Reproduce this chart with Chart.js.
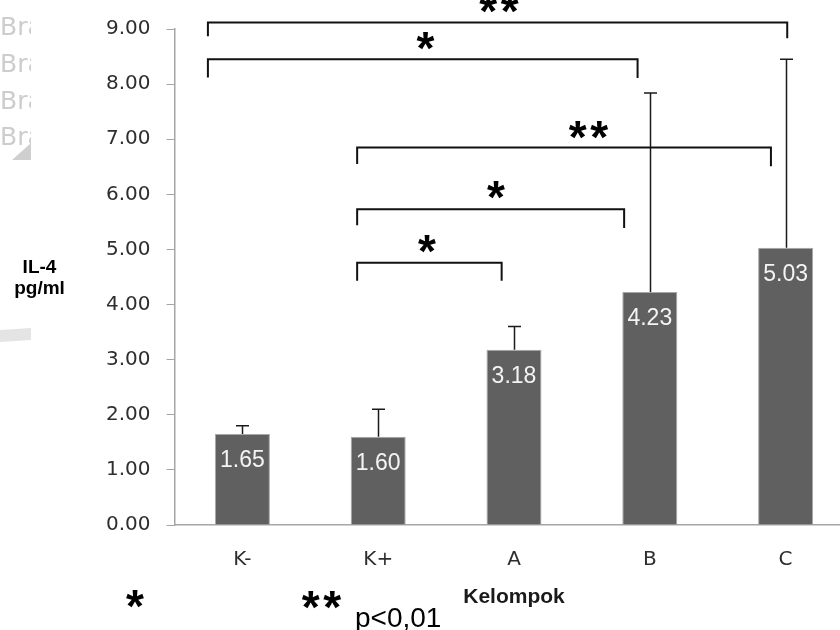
<!DOCTYPE html>
<html>
<head>
<meta charset="utf-8">
<script src="https://cdn.jsdelivr.net/npm/chart.js@4.4.1/dist/chart.umd.min.js"></script>
<style>
  html, body { margin: 0; padding: 0; background: #ffffff; width: 840px; height: 630px; overflow: hidden; }
  #wrap { position: absolute; left: 0; top: 0; width: 860px; height: 630px; }
</style>
</head>
<body>
<div id="wrap"><canvas id="c" width="860" height="630"></canvas></div>
<script>
// ---- data ----
const categories = ['K-', 'K+', 'A', 'B', 'C'];
const means = [1.65, 1.60, 3.18, 4.23, 5.03];
const sdPlus = [0.15, 0.50, 0.42, 3.61, 3.42];
const yTicks = [0, 1, 2, 3, 4, 5, 6, 7, 8, 9];

// significance brackets (category-index units and value units)
const bracketFrom   = [-0.254, -0.254, 0.845, 0.845, 0.845];
const bracketTo     = [4.012, 2.910, 3.892, 2.811, 1.909];
const bracketLevel  = [9.12, 8.45, 6.85, 5.73, 4.76];
const bracketEndL   = [8.87, 8.12, 6.55, 5.44, 4.43];
const bracketEndR   = [8.83, 8.11, 6.51, 5.39, 4.43];
const bracketMarks  = ['**', '*', '**', '*', '*'];
const markAtX       = [1.889, 1.348, 2.548, 1.867, 1.359];
const markAtY       = [9.457, 8.777, 7.165, 6.078, 5.100];

const yTitleLines = ['IL-4', 'pg/ml'];
const xTitle = 'Kelompok';
const legendNote = 'p<0,01';

function drawStar(ctx, cx, cy, count) {
  ctx.save();
  ctx.font = 'bold 46px "Liberation Sans", Arial, sans-serif';
  ctx.textAlign = 'center';
  ctx.textBaseline = 'alphabetic';
  ctx.fillStyle = '#000000';
  const m = ctx.measureText('*');
  const asc = m.actualBoundingBoxAscent, desc = m.actualBoundingBoxDescent;
  const base = cy + (asc - desc) / 2;
  const gap = 21.5;
  for (let k = 0; k < count; k++) {
    const dx = (k - (count - 1) / 2) * gap;
    ctx.fillText('*', cx + dx, base);
  }
  ctx.restore();
}

const extras = {
  id: 'extras',
  afterDatasetsDraw(chart) {
    const ctx = chart.ctx;
    const ys = chart.scales.y;
    const meta = chart.getDatasetMeta(0);
    // error bars (upper only)
    ctx.save();
    ctx.strokeStyle = '#1a1a1a';
    ctx.lineWidth = 1.5;
    meta.data.forEach((bar, i) => {
      const x = Math.round(bar.x) + 0.5;
      const yTop = ys.getPixelForValue(means[i] + sdPlus[i]);
      const yBar = ys.getPixelForValue(means[i]);
      ctx.beginPath();
      ctx.moveTo(x, yBar);
      ctx.lineTo(x, yTop);
      ctx.moveTo(x - 6.5, yTop);
      ctx.lineTo(x + 6.5, yTop);
      ctx.stroke();
    });
    ctx.restore();
    // value labels inside bars
    ctx.save();
    ctx.font = '23px "Liberation Sans", Arial, sans-serif';
    ctx.fillStyle = '#f4f4f4';
    ctx.textAlign = 'center';
    ctx.textBaseline = 'alphabetic';
    meta.data.forEach((bar, i) => {
      ctx.fillText(means[i].toFixed(2), bar.x, bar.y + 33);
    });
    ctx.restore();
  },
  afterDraw(chart) {
    const ctx = chart.ctx;
    const xs = chart.scales.x, ys = chart.scales.y;
    const p0 = xs.getPixelForValue(0);
    const step = xs.getPixelForValue(1) - p0;
    const px = (v) => p0 + v * step;
    // brackets
    ctx.save();
    ctx.strokeStyle = '#111111';
    ctx.lineWidth = 2;
    for (let i = 0; i < bracketFrom.length; i++) {
      const x1 = px(bracketFrom[i]), x2 = px(bracketTo[i]);
      const y = ys.getPixelForValue(bracketLevel[i]);
      ctx.beginPath();
      ctx.moveTo(x1, ys.getPixelForValue(bracketEndL[i]));
      ctx.lineTo(x1, y);
      ctx.lineTo(x2, y);
      ctx.lineTo(x2, ys.getPixelForValue(bracketEndR[i]));
      ctx.stroke();
      drawStar(ctx, px(markAtX[i]), ys.getPixelForValue(markAtY[i]), bracketMarks[i].length);
    }
    ctx.restore();

    // y axis title
    ctx.save();
    ctx.font = 'bold 19px "Liberation Sans", Arial, sans-serif';
    ctx.fillStyle = '#000000';
    ctx.textAlign = 'center';
    ctx.textBaseline = 'alphabetic';
    ctx.fillText(yTitleLines[0], 39.5, 273);
    ctx.fillText(yTitleLines[1], 39.5, 293.5);
    ctx.restore();

    // x axis title
    ctx.save();
    ctx.font = 'bold 21px "Liberation Sans", Arial, sans-serif';
    ctx.fillStyle = '#1a1a1a';
    ctx.textAlign = 'center';
    ctx.textBaseline = 'alphabetic';
    ctx.fillText(xTitle, (chart.chartArea.left + chart.chartArea.right) / 2, 603);
    ctx.restore();

    // bottom note
    drawStar(ctx, 135, 599, 1);
    drawStar(ctx, 321.5, 599.5, 2);
    ctx.save();
    ctx.font = '28px "Liberation Sans", Arial, sans-serif';
    ctx.fillStyle = '#000000';
    ctx.textAlign = 'left';
    ctx.textBaseline = 'alphabetic';
    ctx.fillText(legendNote, 355, 627);
    ctx.restore();

    // faint watermark at left edge
    ctx.save();
    ctx.beginPath();
    ctx.rect(0, 0, 31, 630);
    ctx.clip();
    ctx.fillStyle = '#cdcdcd';
    ctx.font = '25px "DejaVu Sans", sans-serif';
    ctx.textAlign = 'left';
    [-1, 35, 72, 108.7, 145].forEach(b => ctx.fillText('Bra', 0, b));
    ctx.fillStyle = '#cfcfcf';
    ctx.beginPath();
    ctx.moveTo(12, 160); ctx.lineTo(31, 143); ctx.lineTo(31, 160); ctx.closePath();
    ctx.fill();
    ctx.fillStyle = '#e4e4e4';
    ctx.beginPath();
    ctx.moveTo(0, 330); ctx.lineTo(31, 328); ctx.lineTo(31, 340); ctx.lineTo(0, 342); ctx.closePath();
    ctx.fill();
    ctx.restore();
  }
};

new Chart(document.getElementById('c'), {
  type: 'bar',
  data: {
    labels: categories,
    datasets: [{
      data: means,
      backgroundColor: '#606060',
      borderColor: '#a8a8a8',
      borderWidth: 1,
      barPercentage: 0.405,
      categoryPercentage: 1.0
    }]
  },
  options: {
    responsive: false,
    animation: false,
    events: [],
    layout: { padding: { top: 29, right: 6.5, left: 0, bottom: 0 } },
    plugins: { legend: { display: false }, tooltip: { enabled: false } },
    scales: {
      x: {
        grid: { display: false },
        border: { display: true, color: '#a6a6a6', width: 1.5 },
        ticks: { color: '#2e2e2e', padding: 15, font: { family: '"DejaVu Sans", sans-serif', size: 20 } },
        afterFit: (s) => { s.height = 105; }
      },
      y: {
        min: 0,
        max: 9,
        afterBuildTicks: (s) => { s.ticks = yTicks.map(v => ({ value: v })); },
        grid: { drawOnChartArea: false, drawTicks: true, tickLength: 8, color: '#a6a6a6', tickColor: '#a6a6a6' },
        border: { display: true, color: '#a6a6a6', width: 1.5 },
        ticks: {
          color: '#2e2e2e',
          padding: 16,
          font: { family: '"DejaVu Sans", sans-serif', size: 20 },
          callback: (v) => Number(v).toFixed(2)
        },
        afterFit: (s) => { s.width = 174.5; }
      }
    }
  },
  plugins: [extras]
});
</script>
</body>
</html>
